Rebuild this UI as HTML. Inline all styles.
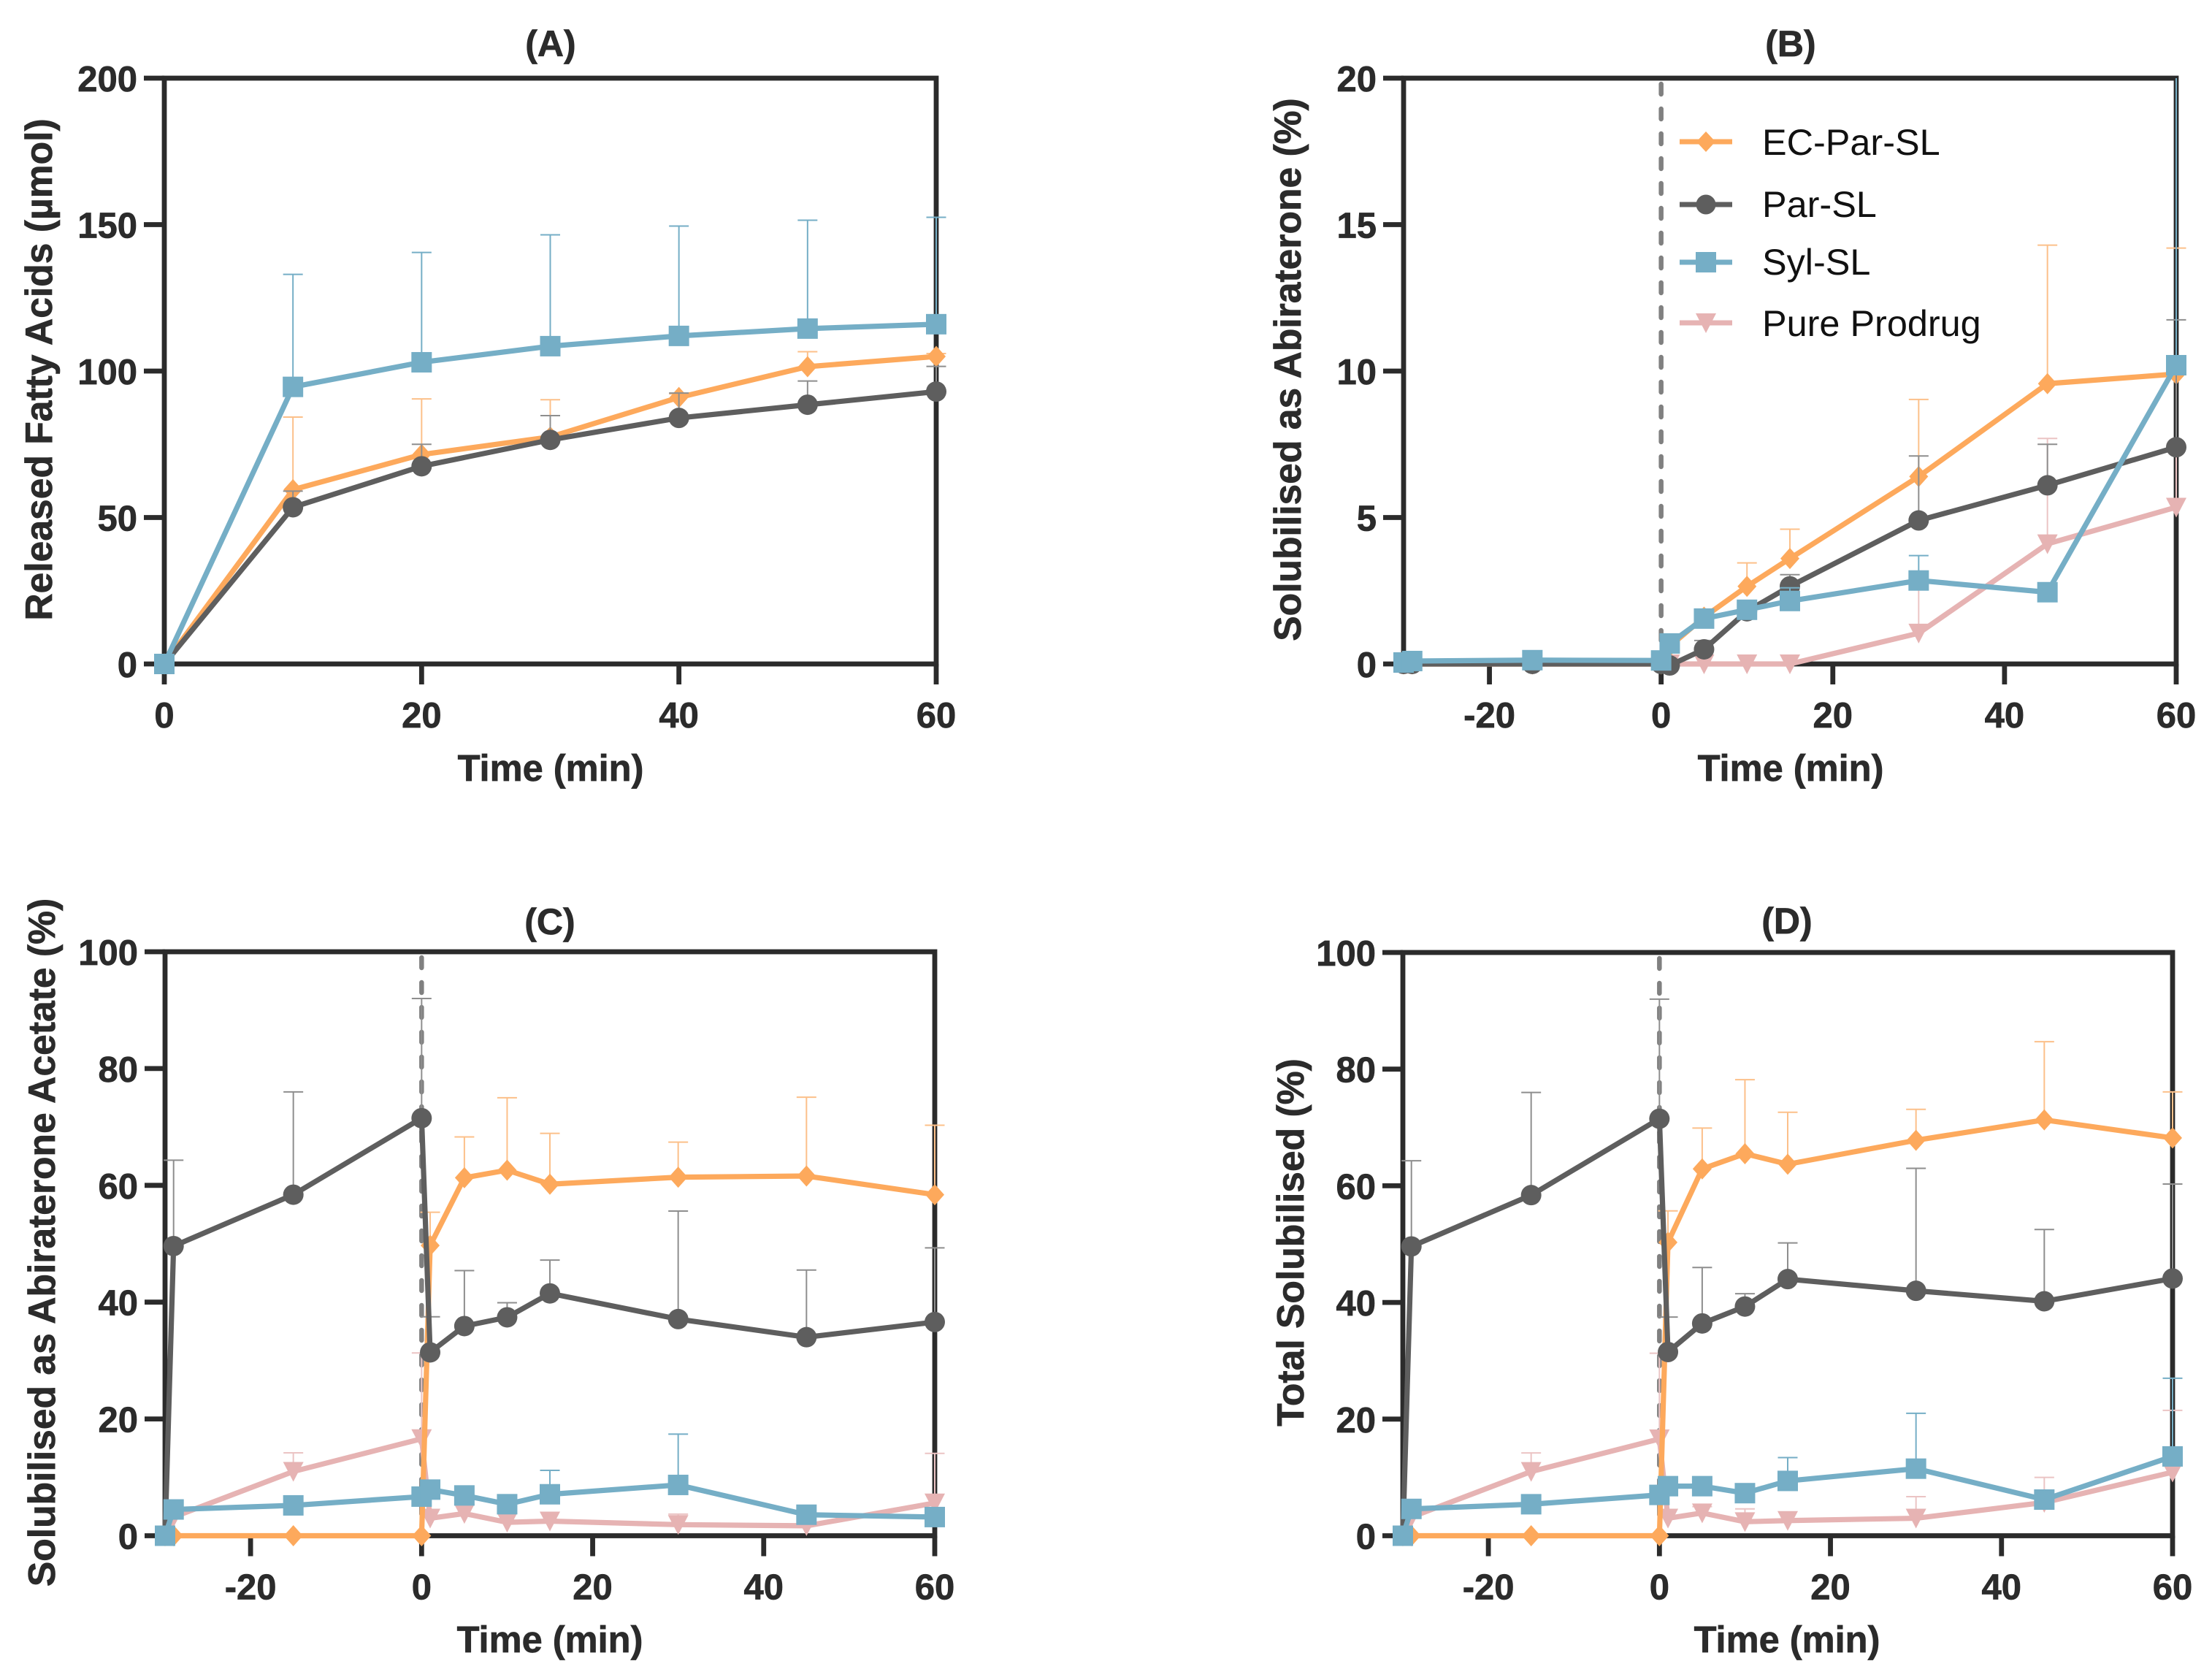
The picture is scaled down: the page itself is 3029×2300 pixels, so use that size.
<!DOCTYPE html>
<html lang="en">
<head>
<meta charset="utf-8">
<title>Lipolysis and solubilisation charts</title>
<style>
html,body{margin:0;padding:0;background:#fff;}
svg{display:block;font-family:"Liberation Sans",Arial,sans-serif;}
</style>
</head>
<body>
<svg id="chart" xmlns="http://www.w3.org/2000/svg" width="3029" height="2300" viewBox="0 0 3029 2300">
  <rect x="0" y="0" width="3029" height="2300" fill="#ffffff"/>
  <g id="panels"></g>
  <g font-size="50.4" fill="#111111">
    <g>
      <line x1="2300" x2="2372" y1="194" y2="194" stroke="#FDA95C" stroke-width="7"/>
      <polygon points="2336,180 2349,194 2336,208 2323,194" fill="#FDA95C"/>
      <text x="2413" y="212">EC-Par-SL</text>
    </g>
    <g>
      <line x1="2300" x2="2372" y1="280" y2="280" stroke="#5E5E5E" stroke-width="7"/>
      <circle cx="2336" cy="280" r="13.5" fill="#5E5E5E"/>
      <text x="2413" y="297">Par-SL</text>
    </g>
    <g>
      <line x1="2300" x2="2372" y1="359" y2="359" stroke="#75AEC6" stroke-width="7"/>
      <rect x="2322" y="345" width="28" height="28" fill="#75AEC6"/>
      <text x="2413" y="376">Syl-SL</text>
    </g>
    <g>
      <line x1="2300" x2="2372" y1="442" y2="442" stroke="#E6B3B3" stroke-width="7"/>
      <polygon points="2322,429 2350,429 2336,456" fill="#E6B3B3"/>
      <text x="2413" y="460">Pure Prodrug</text>
    </g>
  </g>
</svg>
<script>
// ---- Panel A data ----
const timesA = [0, 10, 20, 30, 40, 50, 60];
const xTicksA = [0, 20, 40, 60];
const yTicksA = [0, 50, 100, 150, 200];
const ecA = [0, 59.5, 71.5, 77.5, 91, 101.5, 105];
const ecTopA = [null, 84.3, 90.5, 90.2, 92.2, 106.6, 106];
const parA = [0, 53.5, 67.5, 76.5, 84, 88.5, 93];
const parTopA = [null, 59, 75, 84.8, 92.5, 96.6, 101.6];
const sylA = [0, 94.6, 103, 108.5, 112, 114.5, 116];
const sylTopA = [null, 133, 140.5, 146.5, 149.5, 151.5, 152.5];

// ---- Shared time axis for panels B, C, D ----
const timesLong = [-30, -29, -15, 0, 1, 5, 10, 15, 30, 45, 60];
const xTicksLong = [-20, 0, 20, 40, 60];
const yTicksB = [0, 5, 10, 15, 20];
const yTicksPct = [0, 20, 40, 60, 80, 100];

// ---- Panel B data ----
const ecB = [0, 0, 0, 0, 0.6, 1.6, 2.65, 3.6, 6.4, 9.57, 9.9];
const ecTopB = [null, null, null, null, null, 1.85, 3.45, 4.6, 9.03, 14.3, 14.2];
const parB = [0, 0, 0, 0, -0.05, 0.5, 1.8, 2.65, 4.9, 6.1, 7.4];
const parTopB = [null, null, null, null, null, 0.8, null, 3.05, 7.1, 7.5, 11.75];
const sylB = [0.05, 0.1, 0.13, 0.12, 0.7, 1.55, 1.85, 2.15, 2.85, 2.45, 10.2];
const sylTopB = [null, null, null, null, null, 1.8, null, 2.6, 3.7, null, 24];
const pureB = [0, 0, 0, 0, 0, 0, 0, 0, 1.05, 4.1, 5.35];
const pureTopB = [null, null, null, null, null, null, null, null, 2.8, 7.7, 7.5];

// ---- Panel C data ----
const ecC = [0, 0, 0, 0, 49.7, 61.3, 62.6, 60.2, 61.4, 61.6, 58.4];
const ecTopC = [null, null, null, null, 55.4, 68.3, 75, 68.9, 67.4, 75.1, 70.3];
const parC = [0, 49.6, 58.4, 71.5, 31.4, 35.9, 37.4, 41.5, 37.1, 34, 36.6];
const parTopC = [null, 64.3, 76, 92, 37.5, 45.4, 39.9, 47.2, 55.6, 45.5, 49.3];
const sylC = [0, 4.5, 5.2, 6.7, 7.9, 6.9, 5.4, 7.1, 8.7, 3.6, 3.2];
const sylTopC = [null, null, null, null, null, null, null, 11.2, 17.4, null, null];
const pureC = [0, 3.2, 11, 16.6, 3, 3.8, 2.3, 2.5, 1.9, 1.7, 5.6];
const pureTopC = [null, null, 14.2, 31.3, null, null, null, null, 3.7, null, 14.1];

// ---- Panel D data ----
const ecD = [0, 0, 0, 0, 50.3, 62.9, 65.5, 63.7, 67.8, 71.3, 68.2];
const ecTopD = [null, null, null, null, 55.7, 69.9, 78.2, 72.6, 73.1, 84.7, 76.1];
const parD = [0, 49.6, 58.4, 71.5, 31.5, 36.4, 39.3, 44, 42, 40.2, 44.1];
const parTopD = [null, 64.3, 76, 92, 37.5, 46, 41.5, 50.2, 63, 52.5, 60.3];
const sylD = [0, 4.6, 5.4, 7, 8.5, 8.5, 7.3, 9.4, 11.5, 6.2, 13.6];
const sylTopD = [null, null, null, null, null, null, null, 13.4, 21, null, 27];
const pureD = [0, 3.2, 11, 16.6, 3, 3.9, 2.4, 2.6, 3, 5.7, 10.9];
const pureTopD = [null, null, 14.2, 31.3, null, 5, 4.6, null, 6.7, 10, 21.5];

const NS = 'http://www.w3.org/2000/svg';
const AXIS_COLOR = '#2B2B2B';
const TEXT_WEIGHT_STROKE = 0.7;
const styles = {
  pure: {label: 'pure-prodrug', color: '#E6B3B3', err: '#EBC4C4', shape: 'triangle'},
  ec: {label: 'ec-par-sl', color: '#FDA95C', err: '#FCC08A', shape: 'diamond'},
  par: {label: 'par-sl', color: '#5E5E5E', err: '#8E8E8E', shape: 'circle'},
  syl: {label: 'syl-sl', color: '#75AEC6', err: '#75AEC6', shape: 'square'}
};

function svgEl(tag, parent, props) {
  const el = document.createElementNS(NS, tag);
  for (const key in props) el.setAttribute(key, props[key]);
  parent.appendChild(el);
  return el;
}

function boldText(parent, props, content) {
  const el = svgEl('text', parent, props);
  el.setAttribute('font-weight', '700');
  el.setAttribute('fill', AXIS_COLOR);
  el.setAttribute('stroke', AXIS_COLOR);
  el.setAttribute('stroke-width', TEXT_WEIGHT_STROKE);
  el.textContent = content;
  return el;
}

function drawMarker(parent, shape, cx, cy, color, seriesLabel) {
  let m;
  if (shape === 'circle') {
    m = svgEl('circle', parent, {cx: cx, cy: cy, r: 14, fill: color});
  } else if (shape === 'square') {
    m = svgEl('rect', parent, {x: cx - 14, y: cy - 14, width: 28, height: 28, fill: color});
  } else if (shape === 'diamond') {
    m = svgEl('polygon', parent, {points: [cx, cy - 14.5, cx + 13, cy, cx, cy + 14.5, cx - 13, cy].join(' '), fill: color});
  } else {
    m = svgEl('polygon', parent, {points: [cx - 14, cy - 13, cx + 14, cy - 13, cx, cy + 14].join(' '), fill: color});
  }
  
  
}

function drawSeries(parent, style, times, values, tops, sx, sy, yMax) {
  const g = svgEl('g', parent, {});
  
  
  times.forEach(function (t, i) {
    const top = tops[i];
    if (top === null) return;
    const x = sx(t);
    const clipped = top > yMax;
    const yTop = sy(clipped ? yMax : top);
    const stem = svgEl('line', g, {x1: x, x2: x, y1: sy(values[i]), y2: yTop, stroke: style.err, 'stroke-width': 2});
    
    
    if (!clipped) {
      const cap = svgEl('line', g, {x1: x - 13.5, x2: x + 13.5, y1: yTop, y2: yTop, stroke: style.err, 'stroke-width': 2});
      
      
    }
  });
  const pts = times.map(function (t, i) { return sx(t) + ',' + sy(values[i]); }).join(' ');
  const line = svgEl('polyline', g, {points: pts, fill: 'none', stroke: style.color, 'stroke-width': 7.2, 'stroke-linejoin': 'round'});
  
  
  times.forEach(function (t, i) {
    drawMarker(g, style.shape, sx(t), sy(values[i]), style.color, style.label);
  });
}

function drawPanel(cfg) {
  const root = document.getElementById('panels');
  const g = svgEl('g', root, {});
  
  

  const xMin = cfg.xMin, xMax = cfg.xMax, yMax = cfg.yMax;
  const sx = function (v) { return cfg.left + (v - xMin) / (xMax - xMin) * (cfg.right - cfg.left); };
  const sy = function (v) { return cfg.bottom - v / yMax * (cfg.bottom - cfg.top); };

  const frame = svgEl('rect', g, {x: cfg.left, y: cfg.top, width: cfg.right - cfg.left, height: cfg.bottom - cfg.top, fill: 'none', stroke: AXIS_COLOR, 'stroke-width': 6.8});
  
  

  cfg.yTicks.forEach(function (v) {
    const y = sy(v);
    const tick = svgEl('line', g, {x1: cfg.left - 28, x2: cfg.left, y1: y, y2: y, stroke: AXIS_COLOR, 'stroke-width': 6.8});
    
    
    const label = boldText(g, {x: cfg.left - 37, y: y + 18, 'text-anchor': 'end', 'font-size': 49}, String(v));
    
    
  });

  cfg.xTicks.forEach(function (v) {
    const x = sx(v);
    const tick = svgEl('line', g, {x1: x, x2: x, y1: cfg.bottom, y2: cfg.bottom + 28, stroke: AXIS_COLOR, 'stroke-width': 6.8});
    
    
    const label = boldText(g, {x: x, y: cfg.bottom + 87, 'text-anchor': 'middle', 'font-size': 49}, String(v));
    
    
  });

  if (cfg.dashed) {
    const dash = svgEl('line', g, {x1: sx(0), x2: sx(0), y1: cfg.top + 8, y2: cfg.bottom, stroke: '#808080', 'stroke-width': 6.5, 'stroke-dasharray': '14 20', 'stroke-linecap': 'round'});
    
    
  }

  cfg.series.forEach(function (s) {
    drawSeries(g, s.style, cfg.times, s.values, s.tops, sx, sy, yMax);
  });

  const title = boldText(g, {x: cfg.titleX, y: cfg.titleY, 'text-anchor': 'middle', 'font-size': 50}, cfg.title);
  
  

  const xTitle = boldText(g, {x: cfg.titleX, y: cfg.xTitleY, 'text-anchor': 'middle', 'font-size': 50.6}, 'Time (min)');
  
  

  const yTitle = boldText(g, {x: 0, y: 0, transform: 'translate(' + cfg.yTitleX + ' ' + cfg.yTitleY + ') rotate(-90)', 'text-anchor': 'middle', 'font-size': 51.6}, cfg.yTitle);
  
  
}

drawPanel({
  id: 'a', title: '(A)', yTitle: 'Released Fatty Acids (\u00B5mol)',
  left: 225, right: 1282, top: 107, bottom: 909, xMin: 0, xMax: 60, yMax: 200,
  titleX: 754, titleY: 77, xTitleY: 1069, yTitleX: 71, yTitleY: 506,
  xTicks: xTicksA, yTicks: yTicksA, times: timesA, dashed: false,
  series: [
    {style: styles.ec, values: ecA, tops: ecTopA},
    {style: styles.par, values: parA, tops: parTopA},
    {style: styles.syl, values: sylA, tops: sylTopA}
  ]
});

drawPanel({
  id: 'b', title: '(B)', yTitle: 'Solubilised as Abiraterone (%)',
  left: 1922, right: 2980, top: 107, bottom: 909, xMin: -30, xMax: 60, yMax: 20,
  titleX: 2452, titleY: 77, xTitleY: 1069, yTitleX: 1781, yTitleY: 506,
  xTicks: xTicksLong, yTicks: yTicksB, times: timesLong, dashed: true,
  series: [
    {style: styles.pure, values: pureB, tops: pureTopB},
    {style: styles.ec, values: ecB, tops: ecTopB},
    {style: styles.par, values: parB, tops: parTopB},
    {style: styles.syl, values: sylB, tops: sylTopB}
  ]
});

drawPanel({
  id: 'c', title: '(C)', yTitle: 'Solubilised as Abiraterone Acetate (%)',
  left: 226, right: 1280, top: 1303, bottom: 2102.5, xMin: -30, xMax: 60, yMax: 100,
  titleX: 753, titleY: 1279, xTitleY: 2262, yTitleX: 75, yTitleY: 1701,
  xTicks: xTicksLong, yTicks: yTicksPct, times: timesLong, dashed: true,
  series: [
    {style: styles.pure, values: pureC, tops: pureTopC},
    {style: styles.ec, values: ecC, tops: ecTopC},
    {style: styles.par, values: parC, tops: parTopC},
    {style: styles.syl, values: sylC, tops: sylTopC}
  ]
});

drawPanel({
  id: 'd', title: '(D)', yTitle: 'Total Solubilised (%)',
  left: 1921, right: 2975, top: 1304, bottom: 2102.5, xMin: -30, xMax: 60, yMax: 100,
  titleX: 2447, titleY: 1278, xTitleY: 2262, yTitleX: 1785, yTitleY: 1701,
  xTicks: xTicksLong, yTicks: yTicksPct, times: timesLong, dashed: true,
  series: [
    {style: styles.pure, values: pureD, tops: pureTopD},
    {style: styles.ec, values: ecD, tops: ecTopD},
    {style: styles.par, values: parD, tops: parTopD},
    {style: styles.syl, values: sylD, tops: sylTopD}
  ]
});
</script>
</body>
</html>
